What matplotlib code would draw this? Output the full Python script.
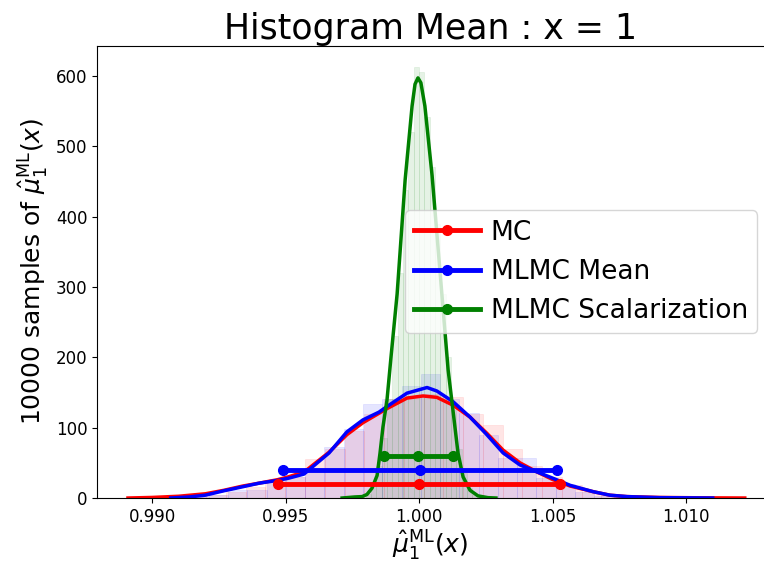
import matplotlib
matplotlib.use("Agg")
import matplotlib.pyplot as plt
import numpy as np

# histogram bar heights (density)
mc_bin_start, mc_bin_width = 0.99055, 0.00074
mc_hist = [1, 2, 4, 8, 15, 25, 30, 55, 70, 95, 120, 140, 145, 148, 144, 120,
           104, 70, 45, 30, 18, 8, 3, 1, 0.5]

mlmc_bin_start, mlmc_bin_width = 0.99068, 0.000722
mlmc_hist = [1, 2, 4, 11, 11, 26, 30, 40, 73, 98, 134, 140, 159, 176, 140, 121,
             90, 57, 57, 28, 20, 8, 3, 1]

scal_bin_start, scal_bin_width = 0.9980, 0.0002
scal_hist = [5, 20, 45, 85, 140, 230, 320, 438, 520, 613, 606, 542, 471, 390,
             290, 200, 125, 70, 35, 14, 4]

# kde curves
mc_kde_x = [0.98910, 0.99000, 0.99100, 0.99200, 0.99270, 0.99340, 0.99400, 0.99470,
            0.99510, 0.99570, 0.99663, 0.99730, 0.99790, 0.99880, 0.99955, 1.00015,
            1.00067, 1.00127, 1.00191, 1.00254, 1.00315, 1.00378, 1.00442, 1.00502,
            1.00566, 1.00652, 1.00715, 1.00779, 1.00900, 1.01050, 1.01220]
mc_kde_y = [0, 0.8, 2.5, 6, 11, 17, 21, 26, 30, 37, 65, 90, 107, 127, 142, 145,
            143, 132, 115, 92, 68, 50, 37, 26, 17, 9, 4, 2, 0.8, 0.3, 0]

mlmc_kde_x = [0.99070, 0.99140, 0.99200, 0.99266, 0.99340, 0.99400, 0.99470, 0.99510,
              0.99569, 0.99663, 0.99730, 0.99790, 0.99850, 0.99880, 0.99955, 1.00030,
              1.00067, 1.00127, 1.00191, 1.00254, 1.00315, 1.00378, 1.00442, 1.00502,
              1.00566, 1.00652, 1.00715, 1.00779, 1.00900, 1.01100]
mlmc_kde_y = [0, 1.5, 4, 10, 16, 21, 25, 28, 34, 64, 94, 111, 122, 130, 149, 157,
              152, 137, 115, 90, 64, 47, 37, 28, 18, 9, 4, 2, 0.5, 0]

scal_kde_x = [0.99712, 0.99760, 0.99787, 0.99805, 0.99824, 0.99843, 0.99854, 0.99865,
              0.99880, 0.99895, 0.99918, 0.99948, 0.99974, 0.99985, 0.99996, 1.00007,
              1.00022, 1.00049, 1.00079, 1.00109, 1.00127, 1.00146, 1.00165, 1.00191,
              1.00221, 1.00258, 1.00288]
scal_kde_y = [0, 1.5, 2, 5, 14, 32, 64, 101, 139, 200, 290, 452, 557, 588, 597, 590,
              557, 458, 320, 182, 125, 64, 30, 11, 3, 0.5, 0]

# mean and spread markers
labels = ['MC', 'MLMC Mean', 'MLMC Scalarization']
colors = ['red', 'blue', 'green']
means = [1.00000, 1.00004, 0.99998]
spreads = [0.00528, 0.00513, 0.00129]
levels = [20, 40, 60]

fig = plt.figure(figsize=(7.64, 5.67), dpi=100)
ax = fig.add_axes([97 / 764, 69 / 567, 667 / 764, 452.5 / 567])

hists = [(mc_bin_start, mc_bin_width, mc_hist),
         (mlmc_bin_start, mlmc_bin_width, mlmc_hist),
         (scal_bin_start, scal_bin_width, scal_hist)]
for (start, width, heights), c in zip(hists, colors):
    lefts = start + width * np.arange(len(heights))
    ax.bar(lefts, heights, width=width, align='edge', color=c, alpha=0.1,
           edgecolor=c, linewidth=0.5)

kdes = [(mc_kde_x, mc_kde_y), (mlmc_kde_x, mlmc_kde_y), (scal_kde_x, scal_kde_y)]
for (kx, ky), c in zip(kdes, colors):
    ax.plot(kx, ky, color=c, lw=2.5)

for m, s, lv, c, lab in zip(means, spreads, levels, colors, labels):
    ax.plot([m - s, m, m + s], [lv, lv, lv], color=c, lw=3.5, marker='o',
            markersize=7, label=lab)

ax.set_xlim(0.98794, 1.01292)
ax.set_ylim(0, 643)
ax.set_xticks([0.990, 0.995, 1.000, 1.005, 1.010])
ax.set_xticklabels(['0.990', '0.995', '1.000', '1.005', '1.010'])
ax.set_yticks([0, 100, 200, 300, 400, 500, 600])
ax.tick_params(labelsize=12)
ax.spines['right'].set_visible(False)

ax.set_title('Histogram Mean : x = 1', fontsize=25, pad=5)
ax.set_xlabel(r'$\hat{\mu}_1^{\mathrm{ML}}(x)$', fontsize=18, labelpad=2)
ax.set_ylabel(r'10000 samples of $\hat{\mu}_1^{\mathrm{ML}}(x)$', fontsize=18)
ax.legend(loc='center right', bbox_to_anchor=(0.99, 0.5), fontsize=19,
          handlelength=2.5, handletextpad=0.4, borderpad=0.35, borderaxespad=0)

fig.savefig('out.png', dpi=100)
